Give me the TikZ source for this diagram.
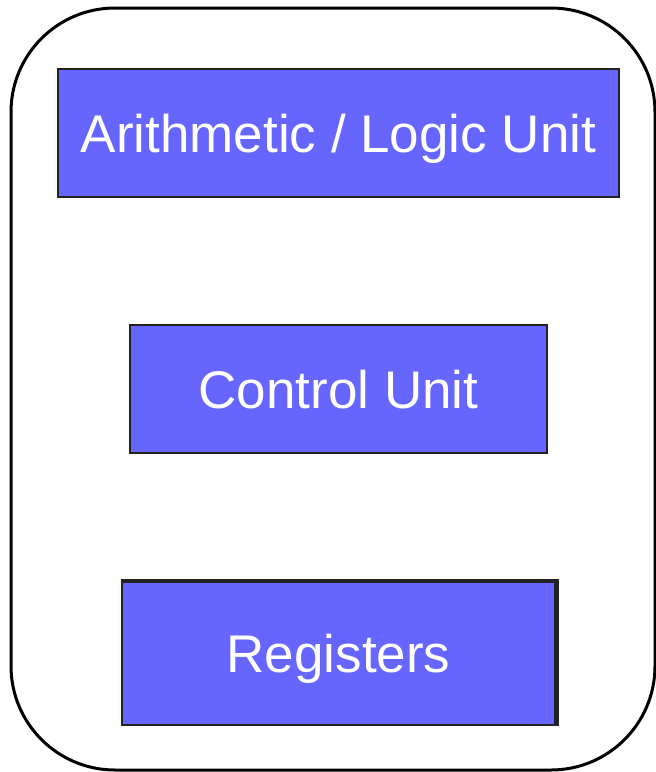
\documentclass[tikz,border=0pt]{standalone}
\usepackage{fontspec}
\setmainfont{Liberation Sans}
\usepackage{tikz}
\usetikzlibrary{positioning}
\definecolor{UnitBlue}{HTML}{6666FF}
\definecolor{EdgeGrey}{HTML}{222222}

\begin{document}
\begin{tikzpicture}[
    x=1pt,y=-1pt,
    unitbox/.style={draw=EdgeGrey,fill=UnitBlue,line width=2pt,
                    minimum height=128pt,inner sep=0pt,text=white,
                    font=\fontsize{53}{60}\selectfont,
                    text height=38pt,text depth=0pt},
    cpubox/.style={draw=black,line width=3pt,rounded corners=104pt,
                   minimum width=644pt,minimum height=762pt,inner sep=0pt}
  ]
  \useasboundingbox (0,0) rectangle (656,772);
  \node[cpubox] (cpu) at (333,389) {};
  \node[unitbox,minimum width=561pt] (alu) at (338.5,133) {Arithmetic / Logic Unit};
  \node[unitbox,minimum width=417pt] (cu) at (338.5,389) {Control Unit};
  \node[unitbox,minimum width=433pt,minimum height=144pt] (regs) at (338.5,653) {Registers};
  % heavier top and right edge on the registers box
  \draw[EdgeGrey,line width=3.5pt] ([yshift=-0.75pt]regs.north west) -- ([xshift=0.75pt,yshift=-0.75pt]regs.north east)
    -- ([xshift=0.75pt]regs.south east);
\end{tikzpicture}
\end{document}
